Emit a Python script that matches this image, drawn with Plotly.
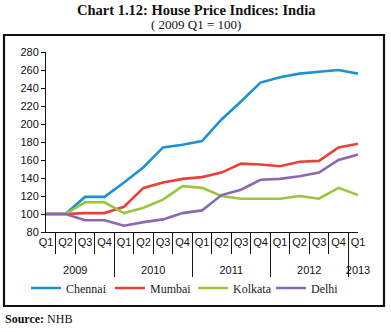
import plotly.graph_objects as go

years = ["2009"] * 4 + ["2010"] * 4 + ["2011"] * 4 + ["2012"] * 4 + ["2013"]
quarters = ["Q1", "Q2", "Q3", "Q4"] * 4 + ["Q1"]

chennai = [100, 100, 119, 119, 135, 152, 174, 177, 181, 205, 225, 246, 252, 256, 258, 260, 256]
mumbai = [100, 100, 101, 101, 108, 129, 135, 139, 141, 146, 156, 155, 153, 158, 159, 174, 178]
kolkata = [100, 100, 113, 113, 101, 107, 116, 131, 129, 120, 117, 117, 117, 120, 117, 129, 121]
delhi = [100, 100, 93, 93, 87, 91, 94, 101, 104, 121, 127, 138, 139, 142, 146, 160, 166]

series = [
    ("Chennai", chennai, "#1b93d2"),
    ("Mumbai", mumbai, "#ea4039"),
    ("Kolkata", kolkata, "#9cc43c"),
    ("Delhi", delhi, "#8a68b2"),
]

# quarter labels get an empty second line so the year row sits further down
quarter_labels = [q + "<br>&nbsp;" for q in quarters]

W, H = 391, 332
L, R, T, B = 46, 33, 52, 100
PW, PH = W - L - R, H - T - B


def px_x(p):
    return (p - L) / PW


def px_y(p):
    return (H - B - p) / PH


serif = "Liberation Serif, DejaVu Serif, serif"
tick_font = dict(family="Liberation Sans Narrow, Liberation Sans, sans-serif", size=11, color="#111")

legend_left = [26, 110, 193, 271]

fig = go.Figure()
layout_legends = {}
for i, (name, vals, color) in enumerate(series):
    key = "legend" if i == 0 else f"legend{i + 1}"
    fig.add_trace(go.Scatter(
        x=[years, quarter_labels], y=vals, name=name, mode="lines",
        line=dict(color=color, width=2.6), legend=key,
    ))
    layout_legends[key] = dict(
        orientation="h", x=px_x(legend_left[i]), xanchor="left",
        y=px_y(288), yanchor="middle",
        font=dict(family=serif, size=12, color="#222"),
        itemwidth=30, bgcolor="rgba(0,0,0,0)",
    )

fig.update_layout(
    width=W, height=H,
    margin=dict(l=L, r=R, t=T, b=B),
    paper_bgcolor="white", plot_bgcolor="white",
    showlegend=True,
    xaxis=dict(
        type="multicategory", showline=True, linecolor="#111", linewidth=1,
        ticks="outside", tickson="boundaries", ticklen=21, tickcolor="#111",
        tickangle=0,
        showdividers=True, dividercolor="#111", dividerwidth=1,
        showgrid=False, zeroline=False, tickfont=tick_font,
    ),
    yaxis=dict(
        range=[80, 280], dtick=20, tick0=80, showline=True, linecolor="#111", linewidth=1,
        ticks="outside", ticklen=4, tickcolor="#111", showgrid=False, zeroline=False,
        tickfont=tick_font,
    ),
    annotations=[
        dict(text="<b>Chart 1.12: House Price Indices: India</b>", x=px_x(196), y=px_y(10),
             xref="paper", yref="paper", showarrow=False, xanchor="center", yanchor="middle",
             font=dict(family=serif, size=14.5, color="#111")),
        dict(text="( 2009 Q1 = 100)", x=px_x(196), y=px_y(24),
             xref="paper", yref="paper", showarrow=False, xanchor="center", yanchor="middle",
             font=dict(family=serif, size=13, color="#111")),
        dict(text="<b>Source:</b> NHB", x=px_x(3), y=px_y(319),
             xref="paper", yref="paper", showarrow=False, xanchor="left", yanchor="middle",
             font=dict(family=serif, size=12, color="#111")),
    ],
    shapes=[
        dict(type="rect", xref="paper", yref="paper",
             x0=px_x(4), x1=px_x(384), y0=px_y(306), y1=px_y(35),
             line=dict(color="#111", width=2.2), fillcolor="rgba(0,0,0,0)", layer="below"),
    ],
    **layout_legends,
)

fig.write_html("out.html")
